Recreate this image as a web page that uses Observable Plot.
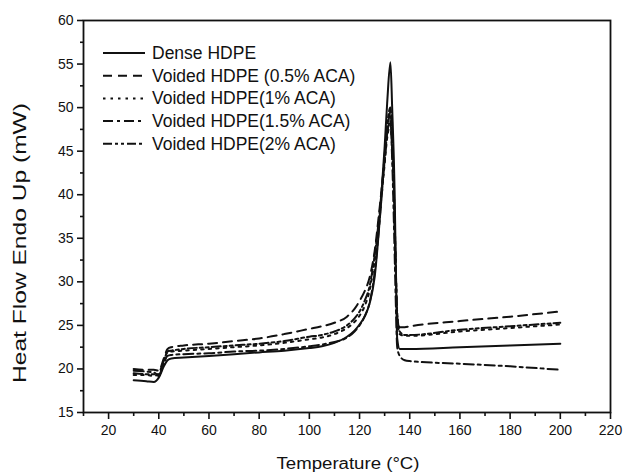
<!DOCTYPE html>
<html>
<head>
<meta charset="utf-8">
<script src="https://cdn.jsdelivr.net/npm/d3@7"></script>
<script src="https://cdn.jsdelivr.net/npm/@observablehq/plot@0.6"></script>
<style>
  html, body { margin: 0; padding: 0; background: #fff; }
  #chart { position: relative; width: 623px; height: 474px; }
  svg { font-family: "Liberation Sans", Arial, sans-serif; }
</style>
</head>
<body>
<div id="chart"></div>
<script>
// ---- data ----
const seriesNames = [
  "Dense HDPE",
  "Voided HDPE (0.5% ACA)",
  "Voided HDPE(1% ACA)",
  "Voided HDPE(1.5% ACA)",
  "Voided HDPE(2% ACA)"
];
const temperature = [30, 35, 38, 40, 42, 43.5, 45, 50, 60, 70, 80, 90, 100, 105, 110, 115, 118, 120, 122, 124, 126, 128, 130, 131, 132.3, 133, 134, 134.5, 135, 136, 138, 140, 160, 180, 200];
const denseHDPE = [18.7, 18.6, 18.5, 19.0, 20.3, 21.0, 21.2, 21.3, 21.5, 21.7, 21.9, 22.1, 22.4, 22.6, 23.0, 23.7, 24.4, 25.1, 26.0, 27.5, 30.5, 37, 45.5, 50.5, 55.2, 50, 40, 31, 23.5, 22.3, 22.3, 22.3, 22.5, 22.7, 22.9];
const voided05 = [20.0, 19.9, 19.9, 19.8, 21.2, 22.3, 22.5, 22.7, 22.9, 23.2, 23.5, 24.0, 24.6, 24.9, 25.3, 26.0, 26.9, 27.8, 28.9, 30.5, 33.5, 38.5, 44, 47, 49.5, 46, 37, 31, 26, 24.8, 24.8, 24.9, 25.5, 26.0, 26.6];
const voided1 = [19.3, 19.3, 19.2, 19.5, 21.0, 21.9, 22.0, 22.1, 22.3, 22.5, 22.7, 23.0, 23.4, 23.6, 24.0, 24.7, 25.4, 26.1, 27.2, 29, 32.5, 37.5, 43.5, 46.5, 48, 45, 36, 30, 25.5, 24.0, 23.8, 23.8, 24.3, 24.7, 25.1];
const voided15 = [19.8, 19.7, 19.6, 19.3, 20.6, 21.5, 21.6, 21.7, 21.8, 22.0, 22.1, 22.3, 22.6, 22.8, 23.1, 23.6, 24.3, 25.0, 26.0, 27.6, 31, 37, 44, 47, 48.5, 44, 33, 27, 22.5, 21.5, 21.0, 20.9, 20.6, 20.3, 19.9];
const voided2 = [19.5, 19.4, 19.4, 19.2, 20.9, 22.0, 22.1, 22.3, 22.5, 22.7, 22.9, 23.2, 23.7, 23.9, 24.3, 25.0, 25.8, 26.6, 27.8, 29.5, 33, 38, 44.5, 48, 50, 46.5, 37, 31, 26.5, 24.3, 23.9, 23.9, 24.5, 24.9, 25.3];
const xTicks = [20, 40, 60, 80, 100, 120, 140, 160, 180, 200, 220];
const xMinorTicks = [10, 30, 50, 70, 90, 110, 130, 150, 170, 190, 210];
const yTicks = [15, 20, 25, 30, 35, 40, 45, 50, 55, 60];
const yMinorTicks = [17.5, 22.5, 27.5, 32.5, 37.5, 42.5, 47.5, 52.5, 57.5];

// ---- styles ----
const dashes = ["none", "9,6", "2.5,5", "10,4,3,4", "9,3,3,3,3,3"];
const allValues = [denseHDPE, voided05, voided1, voided15, voided2];

const rows = [];
seriesNames.forEach((name, i) => {
  temperature.forEach((t, j) => rows.push({series: name, idx: i, t, v: allValues[i][j]}));
});

const lineMarks = seriesNames.map((name, i) =>
  Plot.line(rows.filter(d => d.idx === i), {
    x: "t", y: "v", stroke: "#111", strokeWidth: 2,
    strokeDasharray: dashes[i], curve: "monotone-x"
  })
);

const chart = Plot.plot({
  width: 623,
  height: 474,
  marginLeft: 83,
  marginRight: 13,
  marginTop: 20,
  marginBottom: 62,
  style: {fontFamily: "Liberation Sans, Arial, sans-serif", fontSize: "14px", color: "#111", background: "#fff"},
  x: {domain: [10, 220]},
  y: {domain: [15, 60]},
  marks: [
    Plot.axisX({ticks: xTicks, tickSize: 7, tickPadding: 6, strokeWidth: 1.6, label: null, fontSize: 14}),
    Plot.axisX({ticks: xMinorTicks, tickSize: 4, tickFormat: () => "", strokeWidth: 1.6, label: null}),
    Plot.axisY({ticks: yTicks, tickSize: 6, tickPadding: 4, strokeWidth: 1.6, label: null, fontSize: 14}),
    Plot.axisY({ticks: yMinorTicks, tickSize: 3, tickFormat: () => "", strokeWidth: 1.6, label: null}),
    ...lineMarks,
    Plot.frame({stroke: "#111", strokeWidth: 1.8})
  ]
});

document.getElementById("chart").appendChild(chart);

// ---- titles and legend added to the same SVG ----
const svg = d3.select(chart);
svg.append("text")
  .attr("x", 20).attr("y", 243)
  .attr("transform", "rotate(-90,20,243)")
  .attr("text-anchor", "middle").attr("dominant-baseline", "central")
  .attr("font-size", 18).attr("fill", "#111")
  .attr("textLength", 280).attr("lengthAdjust", "spacingAndGlyphs")
  .text("Heat Flow Endo Up (mW)");
svg.append("text")
  .attr("x", 348).attr("y", 463)
  .attr("text-anchor", "middle").attr("dominant-baseline", "central")
  .attr("font-size", 16).attr("fill", "#111")
  .attr("textLength", 143).attr("lengthAdjust", "spacingAndGlyphs")
  .text("Temperature (°C)");

const legend = svg.append("g");
seriesNames.forEach((name, i) => {
  const y = 53 + i * 22.7;
  legend.append("line")
    .attr("x1", 103).attr("x2", 145).attr("y1", y).attr("y2", y)
    .attr("stroke", "#111").attr("stroke-width", 2)
    .attr("stroke-dasharray", dashes[i]);
  legend.append("text")
    .attr("x", 152).attr("y", y)
    .attr("text-anchor", "start")
    .attr("dominant-baseline", "central")
    .attr("font-size", 17.5).attr("fill", "#111")
    .text(name);
});
</script>
</body>
</html>
